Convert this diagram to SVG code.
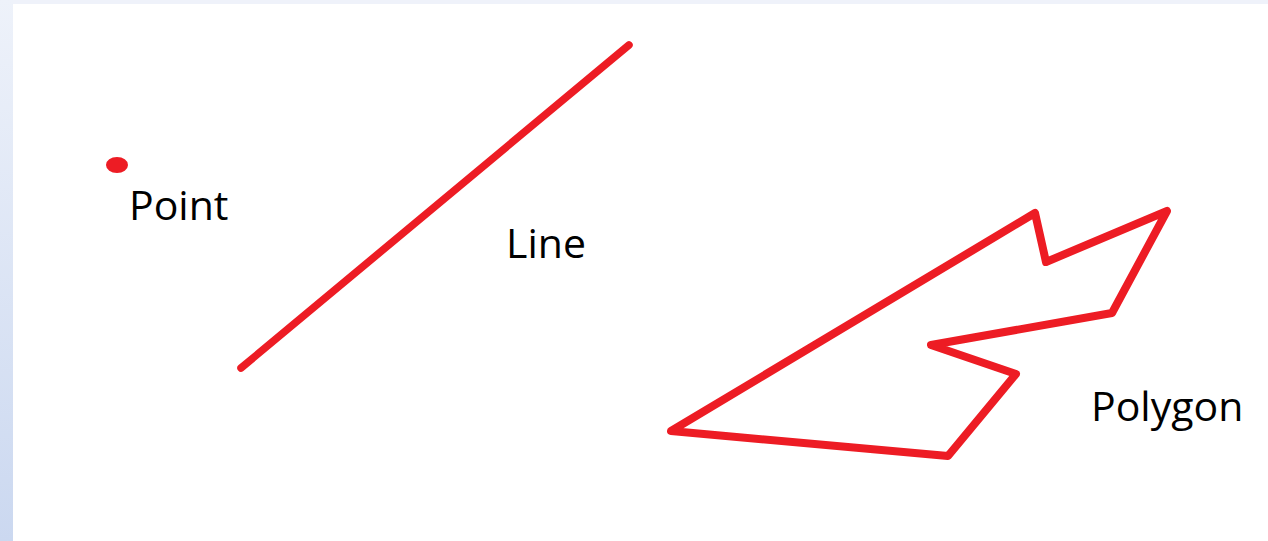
<svg xmlns="http://www.w3.org/2000/svg" width="1268" height="541" viewBox="0 0 1268 541">
  <defs>
    <linearGradient id="side" x1="0" y1="0" x2="0" y2="1">
      <stop offset="0" stop-color="#eef2fa"/>
      <stop offset="1" stop-color="#cbd8f0"/>
    </linearGradient>
  </defs>
  <style>
    .shape { fill: none; stroke: #ed1c24; stroke-linecap: round; stroke-linejoin: round; }
    .label { font-family: "Open Sans", "Liberation Sans", sans-serif; font-size: 41px; fill: #000000; }
  </style>
  <rect x="0" y="0" width="1268" height="541" fill="#ffffff"/>
  <rect x="0" y="0" width="1268" height="4" fill="#eff2fa"/>
  <rect x="0" y="0" width="13" height="541" fill="url(#side)"/>

  <g id="point">
    <ellipse cx="117" cy="165" rx="11" ry="8" fill="#ed1c24"/>
    <text class="label" x="129" y="220">Point</text>
  </g>

  <g id="line">
    <line class="shape" x1="241" y1="368" x2="629" y2="45" stroke-width="7.5"/>
    <text class="label" x="506" y="258">Line</text>
  </g>

  <g id="polygon">
    <polygon class="shape" stroke-width="8" points="671,431 1035,213 1046,262 1167,211 1112,313 931,345 1016,374 948,456"/>
    <text class="label" x="1091" y="421">Polygon</text>
  </g>

  <g id="connectors"></g>
</svg>
